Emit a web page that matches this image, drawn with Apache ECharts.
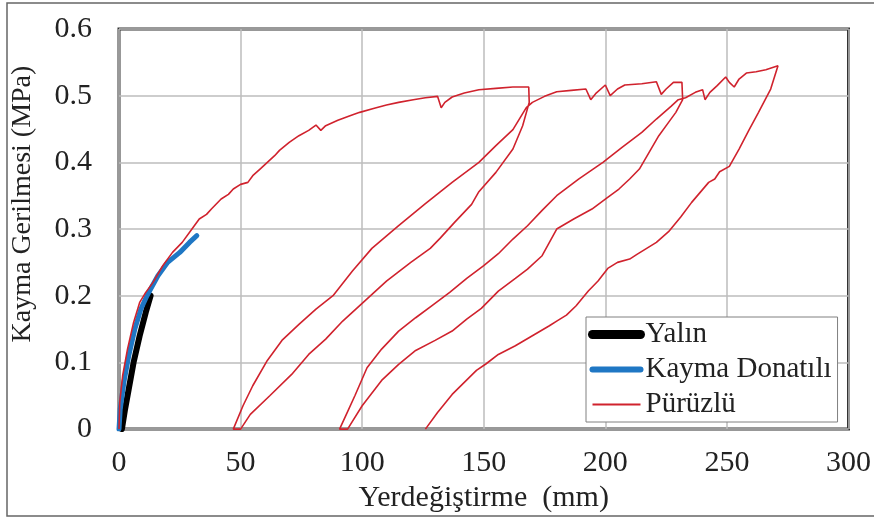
<!DOCTYPE html>
<html>
<head>
<meta charset="utf-8">
<script src="https://cdn.jsdelivr.net/npm/echarts@6/dist/echarts.min.js"></script>
<style>
html,body{margin:0;padding:0;background:#fff;}
#chart{width:874px;height:518px;}
</style>
</head>
<body>
<div id="chart"></div>
<script>
// Series names
const seriesNames = ['Yalın', 'Kayma Donatılı', 'Pürüzlü'];

// Yalın (black) [displacement mm, stress MPa]
const yalin = [[1.2,0],[2.5,0.03],[4,0.06],[6,0.1],[8.5,0.14],[11,0.175],[13,0.2]];

// Kayma Donatılı (blue)
const kayma = [[0,0],[0.5,0.03],[2,0.07],[4,0.11],[6.5,0.15],[9,0.18],[11.5,0.2],[13,0.21],[16,0.23],[20,0.25],[25,0.265],[29,0.28],[32,0.29]];

// Pürüzlü (red) - cyclic path
const puruzlu = [
  [0,0],[0.3,0.04],[1.5,0.08],[3.5,0.12],[6,0.16],[8.5,0.19],[11,0.205],[14,0.22],[18,0.245],[22,0.265],[26,0.28],[30,0.3],[33,0.315],[36,0.322],[38,0.33],[42,0.345],[45,0.352],[47,0.36],[50,0.367],[53,0.37],[55,0.38],[58,0.39],[61,0.4],[64,0.41],[66,0.418],[70,0.43],[74,0.44],[78,0.448],[81,0.456],[83,0.448],[85,0.455],[90,0.463],[95,0.47],[99,0.475],[105,0.481],[110,0.486],[115,0.49],[121,0.494],[126,0.497],[131,0.499],[132.5,0.482],[134,0.49],[137,0.498],[142,0.504],[148,0.509],[155,0.511],[162,0.513],[168.5,0.513],
  [168.7,0.49],[166,0.455],[162,0.42],[155,0.385],[148,0.356],[145,0.337],[138,0.31],[132,0.286],[128,0.271],[120,0.25],[110,0.222],[101,0.192],[92,0.162],[85,0.135],[78,0.112],[71,0.082],[62,0.05],[54,0.022],[50,0],
  [47,0],[51,0.035],[55,0.065],[61,0.103],[67,0.133],[74,0.157],[81,0.18],[88,0.2],[96,0.237],[104,0.271],[115,0.305],[126,0.338],[137,0.37],[148,0.4],[155,0.425],[162,0.449],[167.5,0.482],
  [170,0.49],[175,0.499],[180,0.506],[186,0.508],[192,0.51],[194,0.494],[196,0.503],[200,0.516],[202,0.5],[205,0.51],[208,0.516],[215,0.518],[221,0.521],[223,0.502],[225,0.51],[228,0.52],[231.5,0.52],
  [231.8,0.494],[229,0.475],[226,0.46],[222,0.44],[218,0.415],[214,0.39],[210,0.375],[205.6,0.36],[200,0.345],[194.5,0.33],[187,0.315],[180,0.3],[177,0.28],[174,0.26],[168,0.24],[163,0.226],[156,0.207],[149,0.181],[143,0.165],[137,0.147],[130,0.133],[122,0.118],[115,0.097],[108,0.073],[100,0.035],[94,0],
  [90.7,0],[93.5,0.022],[97,0.05],[102,0.092],[108,0.12],[115,0.147],[122,0.167],[129,0.186],[136,0.205],[143,0.226],[150,0.245],[156,0.263],[162,0.285],[168,0.305],[174,0.328],[180,0.35],[189,0.375],[199,0.4],[207,0.423],[215,0.445],[221,0.465],[227,0.484],[230,0.494],
  [233,0.497],[237,0.505],[240,0.509],[241,0.494],[243,0.505],[246,0.515],[249.5,0.528],[251,0.52],[253,0.513],[255,0.525],[258,0.534],[262,0.536],[266,0.539],[271,0.545],
  [268,0.51],[263,0.475],[259,0.448],[255,0.42],[251,0.394],[247,0.386],[245,0.375],[242.5,0.37],[239,0.355],[235.5,0.34],[231,0.318],[226,0.296],[221,0.28],[217,0.271],[213,0.262],[210,0.255],[205,0.25],[201,0.241],[197,0.222],[193,0.207],[188,0.185],[184,0.171],[180,0.162],[177,0.155],[170,0.14],[163,0.125],[156,0.112],[151,0.098],[147,0.088],[142,0.07],[137,0.052],[131,0.025],[126,0]
];

// Axis settings
const xTitle = 'Yerdeğiştirme  (mm)';
const yTitle = 'Kayma Gerilmesi (MPa)';

const font = "'Liberation Serif', 'Times New Roman', serif";
const chart = echarts.init(document.getElementById('chart'), null, {renderer: 'canvas'});
chart.setOption({
  animation: false,
  backgroundColor: '#fff',
  textStyle: {fontFamily: font},
  graphic: [{
    type: 'rect', silent: true, z: -1,
    shape: {x: 7, y: 3, width: 900, height: 513},
    style: {fill: 'none', stroke: '#666', lineWidth: 1.5}
  }],
  grid: {left: 119, right: 24, top: 29, bottom: 86, show: true, borderColor: '#333', borderWidth: 3, backgroundColor: 'transparent'},
  legend: {
    orient: 'vertical', left: 586, top: 317,
    padding: [3, 6, 3, 2], itemGap: 6, itemWidth: 48, itemHeight: 14,
    backgroundColor: '#fff', borderColor: '#808080', borderWidth: 1,
    itemStyle: {opacity: 0},
    textStyle: {fontFamily: font, fontSize: 29, color: '#222'},
    data: [
      {name: seriesNames[0], lineStyle: {width: 9, cap: 'round'}},
      {name: seriesNames[1], lineStyle: {width: 6, cap: 'round'}},
      {name: seriesNames[2], lineStyle: {width: 2}}
    ]
  },
  xAxis: {
    type: 'value', min: 0, max: 300, interval: 50,
    name: xTitle, nameLocation: 'middle', nameGap: 47,
    nameTextStyle: {fontFamily: font, fontSize: 30, color: '#222'},
    axisLine: {show: false}, axisTick: {show: false},
    axisLabel: {fontFamily: font, fontSize: 30, color: '#222', margin: 19},
    splitLine: {lineStyle: {color: '#bdbdbd', width: 1.5}}
  },
  yAxis: {
    type: 'value', min: 0, max: 0.6, interval: 0.1,
    name: yTitle, nameLocation: 'middle', nameGap: 82,
    nameTextStyle: {fontFamily: font, fontSize: 28, color: '#222', padding: [0, 0, 0, 50]},
    axisLine: {show: false}, axisTick: {show: false},
    axisLabel: {fontFamily: font, fontSize: 30, color: '#222', margin: 27},
    splitLine: {lineStyle: {color: '#bdbdbd', width: 1.5}}
  },
  series: [
    {name: seriesNames[0], type: 'line', data: yalin, showSymbol: false, symbol: 'none', color: '#000',
     lineStyle: {width: 6, color: '#000', cap: 'round'}, z: 2},
    {name: seriesNames[1], type: 'line', data: kayma, showSymbol: false, symbol: 'none', color: '#1f77c4',
     lineStyle: {width: 5, color: '#1f77c4', cap: 'round'}, z: 3},
    {name: seriesNames[2], type: 'line', data: puruzlu, showSymbol: false, symbol: 'none', color: '#d0222d',
     lineStyle: {width: 1.6, color: '#d0222d'}, z: 4}
  ]
});
</script>
</body>
</html>
